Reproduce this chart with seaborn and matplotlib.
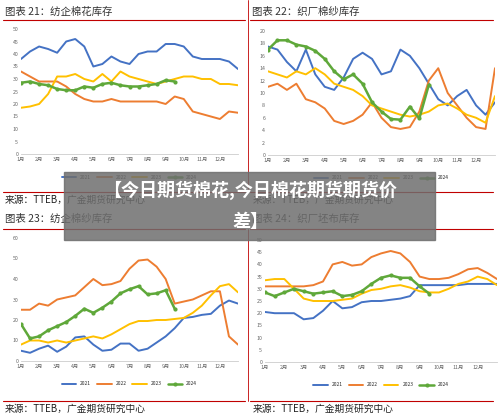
import numpy as np
import pandas as pd
import matplotlib.pyplot as plt
import seaborn as sns

sns.set_style("white")
plt.rcParams['font.family'] = ['Noto Sans CJK SC', 'DejaVu Sans']

months = ["1月", "2月", "3月", "4月", "5月", "6月", "7月", "8月", "9月", "10月", "11月", "12月"]
x_full = np.arange(25) * 0.5
x_2024 = np.arange(18) * 0.5

# 图表21 纺企棉花库存
c21_2021 = [38, 41, 43, 42, 40.5, 45, 46, 43, 35, 36, 39, 37, 36, 40, 41, 41, 44, 44, 43, 39, 38, 38, 38, 37, 34]
c21_2022 = [33, 31, 29, 29, 29, 27, 24, 22, 21, 21, 22, 21, 21, 21, 21, 21, 20, 23, 22, 17, 16, 15, 14, 17, 16.5]
c21_2023 = [18.5, 19, 20, 24, 31, 31, 32, 30, 29, 32, 29, 33, 31, 30, 29, 28, 29, 30, 31, 31, 30, 30, 28, 28, 27.5]
c21_2024 = [28.5, 29, 28, 27.5, 26, 25.5, 25.5, 27, 26.5, 28, 28.5, 27.5, 27, 27, 27.5, 28, 29.5, 29]

# 图表22 织厂棉纱库存
c22_2021 = [17.5, 17, 15, 13.5, 17, 13, 11, 10.5, 12.5, 15.5, 16.5, 15.5, 13, 13.5, 17, 16, 14, 11.5, 9, 8, 9.5, 10.5, 8, 6.5, 8.5]
c22_2022 = [11, 11.5, 10.5, 11.5, 9, 8.5, 7.5, 5.5, 5, 5.5, 6.5, 8.5, 6, 4.5, 4.2, 4.5, 7, 12, 14, 10, 8, 6, 4.5, 4.2, 14]
c22_2023 = [13.5, 13, 12.5, 13.5, 13, 14, 13, 11.5, 11, 10.5, 9.5, 8, 7.5, 7, 6.5, 6.2, 6.5, 7, 8, 8.3, 7.5, 6.5, 6, 5.2, 9.5]
c22_2024 = [17, 18.5, 18.5, 17.8, 17.5, 16.8, 15.5, 13.5, 12.2, 13, 11.5, 8.5, 7, 5.8, 5.7, 7.8, 5.9, 11.3]

# 图表23 纺企棉纱库存
c23_2021 = [5, 4, 6, 7.5, 4.5, 7, 11.5, 12, 8, 5, 5.5, 8.5, 8.5, 5, 6, 9, 12, 16, 21, 21.5, 22.5, 23, 27, 29.5, 28]
c23_2022 = [25, 25, 28, 27, 30, 31, 32, 36, 40, 37, 37.5, 39, 45, 49, 49.5, 46, 40, 28, 29, 30, 32, 34, 34, 12, 8]
c23_2023 = [8, 10, 10, 9, 10, 9, 10, 11, 12, 11, 13, 15.5, 18, 19.5, 19.5, 20, 20, 20.5, 21, 23.5, 27, 32, 36.5, 37.5, 33.5]
c23_2024 = [18, 11, 12, 15, 17, 19, 22, 25.5, 23.5, 26, 29, 33, 35, 36.5, 32.5, 33, 34.5, 25.5]

# 图表24 织厂坯布库存
c24_2021 = [20.5, 20, 20, 20, 17.5, 18, 21, 25, 22, 22.5, 24.5, 25, 25, 25.5, 26, 27, 31.5, 31.5, 31.5, 31.5, 31.5, 32, 32, 32, 32]
c24_2022 = [31, 31, 31, 31, 31, 31.5, 33, 40, 41, 39.5, 40, 43, 44.5, 45.5, 44.5, 41, 35, 34, 34, 34.5, 36, 38, 38.5, 36.5, 34]
c24_2023 = [33.5, 34, 34, 30, 26, 25, 25, 25, 25.5, 26, 28, 29.5, 30, 31, 31.5, 30.5, 29, 28.5, 28.5, 30, 32, 33, 35, 34, 31.5]
c24_2024 = [28.5, 27, 28.5, 30, 29, 28, 28.5, 29, 27, 27.5, 29, 32, 34.5, 35.5, 34.5, 34.5, 31, 28]

colors = {"2021": "#4472C4", "2022": "#ED7D31", "2023": "#FFC000", "2024": "#5FA83A"}
red = "#C00000"

fig = plt.figure(figsize=(5, 4.18), dpi=100)


def panel(rect, series, ymax, ystep, title, title_xy, line_y, src_y, src_x):
    ax = fig.add_axes(rect)
    for year, vals in series.items():
        if year == "2024":
            df = pd.DataFrame({"x": x_2024, "y": vals})
            sns.lineplot(data=df, x="x", y="y", ax=ax, color=colors[year], lw=1.8,
                         marker="o", markersize=3, markeredgewidth=0, label=year)
        else:
            df = pd.DataFrame({"x": x_full, "y": vals})
            sns.lineplot(data=df, x="x", y="y", ax=ax, color=colors[year], lw=1.4, label=year)
    ax.set_xlim(0, 12)
    ax.set_ylim(0, ymax)
    ax.set_xticks(range(12))
    ax.set_xticklabels(months)
    ax.set_yticks(np.arange(0, ymax + 1, ystep))
    ax.tick_params(labelsize=3.8, colors="#666666", length=0, pad=2)
    ax.set_xlabel("")
    ax.set_ylabel("")
    for s in ["top", "right", "left"]:
        ax.spines[s].set_visible(False)
    ax.spines["bottom"].set_color("#cccccc")
    ax.spines["bottom"].set_linewidth(0.6)
    ax.legend(loc="upper center", bbox_to_anchor=(0.5, -0.13), ncol=4, frameon=False,
              fontsize=3.5, handlelength=3, columnspacing=1.2)
    fig.text(title_xy[0], title_xy[1], title, fontsize=7.5, color="#333333", va="center")
    fig.add_artist(plt.Line2D([title_xy[0] - 0.005, title_xy[0] + 0.48], [line_y, line_y], color=red, lw=0.8))
    fig.add_artist(plt.Line2D([title_xy[0] - 0.005, title_xy[0] + 0.48], [src_y + 0.02, src_y + 0.02], color=red, lw=0.8))
    fig.text(src_x, src_y, "来源：TTEB，广金期货研究中心", fontsize=7, color="#222222", va="center")
    return ax


H = 418.0
panel([0.042, 1 - 154 / H, 0.434, 125 / H],
      {"2021": c21_2021, "2022": c21_2022, "2023": c21_2023, "2024": c21_2024},
      50, 5, "图表 21：纺企棉花库存", (0.01, 1 - 12 / H), 1 - 20 / H, 1 - 200 / H, 0.01)
panel([0.536, 1 - 155 / H, 0.454, 124 / H],
      {"2021": c22_2021, "2022": c22_2022, "2023": c22_2023, "2024": c22_2024},
      20, 2, "图表 22：织厂棉纱库存", (0.505, 1 - 12 / H), 1 - 20 / H, 1 - 200 / H, 0.505)
panel([0.042, 1 - 361 / H, 0.434, 123 / H],
      {"2021": c23_2021, "2022": c23_2022, "2023": c23_2023, "2024": c23_2024},
      60, 10, "图表 23：纺企棉纱库存", (0.01, 1 - 219 / H), 1 - 229 / H, 1 - 409 / H, 0.01)
panel([0.53, 1 - 362 / H, 0.464, 122 / H],
      {"2021": c24_2021, "2022": c24_2022, "2023": c24_2023, "2024": c24_2024},
      50, 5, "图表 24：织厂坯布库存", (0.505, 1 - 219 / H), 1 - 229 / H, 1 - 409 / H, 0.505)

# divider lines
fig.add_artist(plt.Line2D([0.496, 0.496], [1 - 192 / H, 1.0], color=red, lw=0.6))
fig.add_artist(plt.Line2D([0.496, 0.496], [0.04, 1 - 229 / H], color=red, lw=0.6))

# grey overlay banner
fig.add_artist(plt.Rectangle((64 / 500, 1 - 240 / H), 371 / 500, 68 / H, color="#6e6e6e",
                             alpha=0.85, zorder=10))
fig.text(0.5, 1 - 190 / H, "【今日期货棉花,今日棉花期货期货价", fontsize=13, color="white",
         weight="bold", ha="center", va="center", zorder=11)
fig.text(0.5, 1 - 221 / H, "差】", fontsize=13, color="white",
         weight="bold", ha="center", va="center", zorder=11)

fig.savefig("out.png", dpi=100)
